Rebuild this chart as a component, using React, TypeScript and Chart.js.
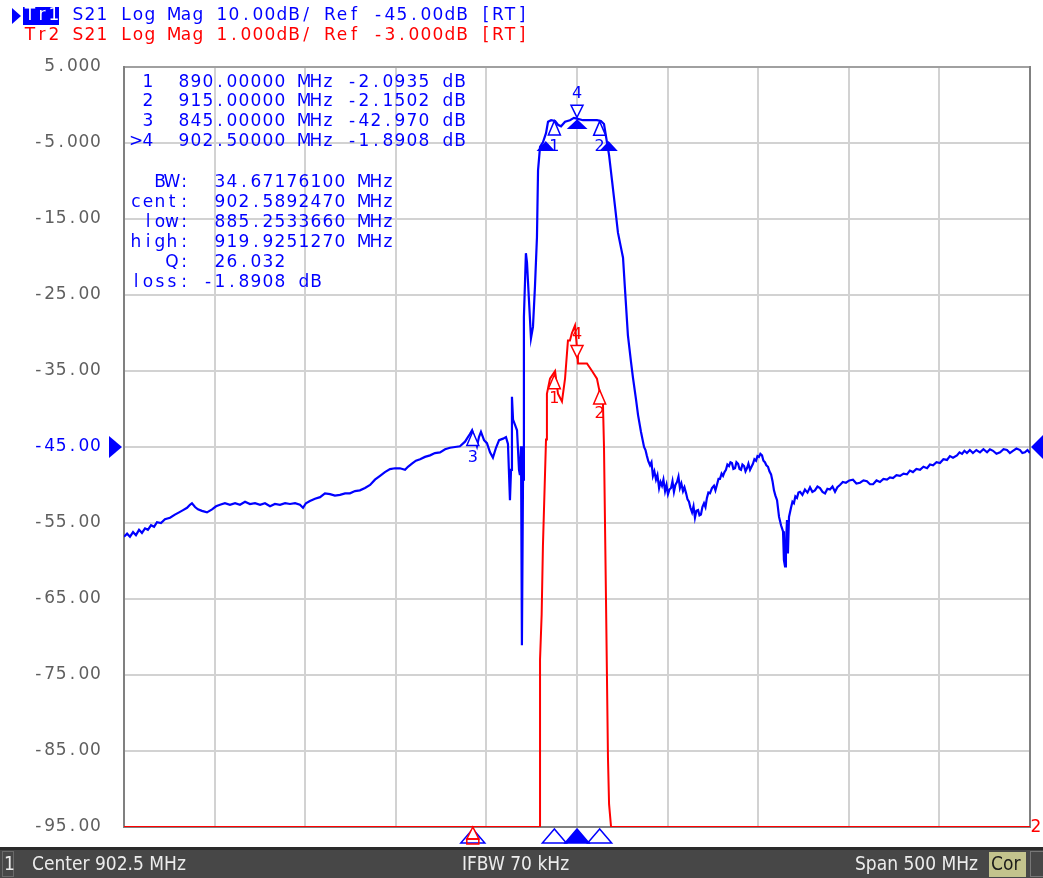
import React, { useEffect, useRef } from "react";
import { Chart, registerables } from "chart.js";
Chart.register(...registerables);

// ---------- data ----------
const xTicks = [652.5, 702.5, 752.5, 802.5, 852.5, 902.5, 952.5, 1002.5, 1052.5, 1102.5, 1152.5];
const yTicks = [5, -5, -15, -25, -35, -45, -55, -65, -75, -85, -95];
const refLevelTr1 = -45;

const blueFreq = [
  652.5, 654.2, 655.8, 657.5, 659.1, 660.8, 662.4, 664.1, 665.7, 667.4, 669.1, 670.7, 672.9, 675.1, 677.9, 680.6,
  682.9, 685.1, 687.3, 688.9, 690.0, 691.7, 693.3, 695.5, 698.3, 701.1, 703.3, 705.5, 708.2, 711.0, 713.8, 716.5,
  719.3, 722.0, 724.8, 727.6, 730.3, 733.1, 735.8, 738.6, 741.4, 744.1, 746.9, 749.6, 751.3, 752.9, 755.1, 757.9,
  760.7, 763.4, 766.2, 768.9, 771.7, 774.5, 777.2, 780.0, 782.7, 785.5, 788.3, 791.0, 793.8, 796.5, 799.3, 802.1,
  804.8, 807.6, 809.2, 811.4, 813.6, 815.9, 818.6, 821.4, 824.1, 826.9, 829.7, 832.4, 835.2, 837.9, 840.7, 842.3,
  843.4, 844.6, 845.7, 847.3, 848.4, 849.5, 851.2, 852.8, 854.5, 856.1, 857.8, 859.5, 861.7, 863.3, 864.4, 865.5,
  866.1, 866.6, 867.2, 868.3, 869.4, 870.5, 871.0, 871.6, 872.1, 872.1, 872.7, 873.2, 874.3, 874.9, 876.0, 877.1,
  878.2, 879.3, 880.4, 881.0, 882.1, 883.7, 885.4, 886.5, 888.2, 890.4, 892.0, 893.7, 895.9, 898.6, 900.8, 902.5,
  905.8, 909.7, 913.5, 915.7, 917.4, 919.1, 920.2, 921.8, 923.5, 925.1, 926.8, 927.9, 929.0, 930.6, 932.3, 933.4,
  935.1, 936.2, 937.8, 939.5, 940.3, 941.1, 941.9, 942.8, 943.6, 944.4, 945.2, 946.1, 946.9, 947.8, 948.6, 949.4,
  950.2, 951.1, 951.9, 952.7, 953.5, 954.4, 955.2, 956.0, 956.8, 957.7, 958.5, 959.3, 960.1, 961.0, 961.8, 962.7,
  963.5, 964.3, 965.1, 966.0, 966.8, 967.6, 968.4, 969.3, 970.1, 970.9, 971.7, 972.6, 973.4, 974.2, 975.0, 975.9,
  977.0, 978.1, 978.9, 979.8, 980.6, 981.4, 982.3, 983.1, 983.9, 984.7, 985.5, 986.4, 987.2, 988.0, 988.8, 989.7,
  990.5, 991.4, 992.2, 993.0, 993.8, 994.7, 995.5, 996.3, 997.1, 998.0, 998.8, 999.6, 1000.4, 1001.3, 1002.1, 1002.9,
  1003.7, 1004.6, 1005.4, 1006.2, 1007.0, 1007.9, 1008.7, 1009.6, 1010.4, 1011.2, 1012.0, 1012.9, 1014.0, 1015.1, 1016.2, 1016.7,
  1017.3, 1017.8, 1018.4, 1018.9, 1019.5, 1020.6, 1021.4, 1022.2, 1023.0, 1023.9, 1024.7, 1025.6, 1026.9, 1028.3, 1029.7, 1031.1,
  1032.4, 1033.8, 1035.2, 1036.6, 1038.0, 1039.4, 1040.7, 1042.1, 1043.5, 1044.9, 1046.2, 1047.6, 1049.2, 1050.9, 1052.8, 1054.8,
  1056.7, 1058.7, 1060.6, 1062.5, 1064.2, 1065.9, 1067.8, 1069.7, 1071.6, 1073.6, 1075.2, 1076.9, 1078.8, 1080.8, 1082.7, 1084.6,
  1086.2, 1087.9, 1089.8, 1091.8, 1093.7, 1095.7, 1097.3, 1099.0, 1100.9, 1102.8, 1104.7, 1106.7, 1108.3, 1110.0, 1112.2, 1113.6,
  1115.0, 1116.3, 1117.7, 1119.3, 1121.0, 1122.9, 1124.9, 1126.8, 1128.8, 1130.4, 1132.1, 1134.0, 1136.0, 1137.9, 1139.8, 1141.4,
  1143.1, 1145.0, 1147.0, 1148.3, 1149.7, 1151.1, 1152.5,
];
const blueDb = [
  -56.8, -56.4, -56.8, -56.2, -56.6, -55.9, -56.3, -55.7, -55.9, -55.3, -55.5, -54.9, -55.0, -54.5, -54.3, -53.9,
  -53.6, -53.3, -53.0, -52.6, -52.4, -52.9, -53.2, -53.4, -53.6, -53.2, -52.8, -52.6, -52.4, -52.6, -52.4, -52.6,
  -52.2, -52.5, -52.4, -52.6, -52.4, -52.8, -52.5, -52.6, -52.4, -52.5, -52.4, -52.6, -53.0, -52.4, -52.1, -51.8,
  -51.6, -51.1, -51.2, -51.4, -51.3, -51.1, -51.1, -50.8, -50.7, -50.4, -50.0, -49.3, -48.8, -48.3, -47.9, -47.8,
  -47.8, -48.0, -47.6, -47.2, -46.8, -46.6, -46.3, -46.1, -45.8, -45.7, -45.3, -45.1, -45.0, -44.9, -44.3, -43.7,
  -43.3, -42.8, -43.7, -44.9, -43.7, -43.0, -44.1, -44.5, -45.7, -46.4, -45.1, -44.1, -43.9, -43.7, -44.6, -52.0,
  -48.0, -38.4, -41.4, -42.1, -42.8, -48.0, -48.7, -44.9, -59.9, -71.1, -49.3, -27.9, -19.5, -20.7, -25.7, -30.7,
  -29.2, -23.9, -17.4, -8.6, -5.5, -4.9, -3.7, -2.2, -2.0, -2.1, -2.6, -2.8, -2.2, -2.0, -1.7, -1.8,
  -2.0, -2.0, -2.0, -2.1, -2.5, -5.0, -6.6, -9.9, -13.4, -16.8, -18.8, -20.1, -24.3, -30.3, -33.8, -35.9,
  -38.8, -40.8, -43.0, -45.0, -45.4, -46.2, -46.9, -47.4, -47.0, -48.8, -48.2, -49.3, -48.7, -50.4, -49.6, -50.1,
  -49.3, -50.8, -50.0, -51.2, -50.6, -50.4, -49.5, -50.9, -50.0, -49.6, -48.9, -50.4, -49.8, -50.8, -50.3, -51.1,
  -51.9, -52.2, -53.0, -53.6, -52.8, -54.3, -53.4, -53.3, -54.0, -53.9, -52.9, -52.4, -52.9, -51.7, -51.0, -51.1,
  -50.4, -50.1, -50.7, -49.9, -49.2, -49.2, -48.5, -48.8, -48.3, -48.0, -47.3, -47.5, -47.0, -47.1, -47.9, -47.8,
  -47.0, -47.2, -47.9, -48.0, -47.3, -47.5, -48.2, -47.8, -47.2, -48.0, -47.6, -47.2, -46.6, -46.8, -46.2, -46.3,
  -45.9, -46.1, -46.8, -47.0, -47.4, -47.6, -48.2, -48.6, -49.5, -50.7, -51.4, -52.0, -54.2, -55.3, -56.1, -59.9,
  -60.7, -57.9, -54.6, -59.0, -54.2, -53.0, -52.2, -52.4, -51.5, -51.7, -51.0, -50.9, -51.3, -50.6, -51.0, -50.3,
  -50.9, -50.7, -50.2, -50.4, -50.9, -51.1, -50.5, -50.6, -50.2, -50.9, -50.3, -50.0, -49.6, -49.7, -49.4, -49.3,
  -49.8, -49.7, -49.4, -49.5, -49.9, -49.9, -49.4, -49.6, -49.2, -49.3, -49.0, -49.1, -48.7, -48.8, -48.5, -48.6,
  -48.1, -48.3, -47.9, -48.0, -47.6, -47.8, -47.3, -47.4, -47.0, -47.1, -46.6, -46.7, -46.2, -46.4, -46.1, -45.7,
  -45.9, -45.5, -45.8, -45.4, -45.8, -45.4, -45.7, -45.3, -45.7, -45.3, -45.5, -45.9, -45.7, -45.3, -45.4, -45.8,
  -45.5, -45.2, -45.4, -45.8, -45.7, -45.4, -45.8,
];

// Tr2 (1 dB/div, ref -3 dB at the bottom line); values below the screen are held at the bottom line
const redFreq = [
  652.5, 882.1, 882.1, 883.0, 883.7, 885.4, 885.9, 887.6, 890.4, 892.0, 894.2, 895.9, 897.5, 898.6, 899.7, 901.4,
  902.5, 903.0, 904.1, 905.8, 908.0, 910.8, 913.5, 915.2, 916.8, 917.4, 918.5, 919.6, 920.2, 921.3, 1152.5,
];
const redDb = [
  -3.0, -3.0, -0.8, -0.2, 0.7, 2.1, 2.7, 2.9, 3.0, 2.7, 2.6, 2.9, 3.4, 3.4, 3.5, 3.6,
  3.3, 3.1, 3.1, 3.1, 3.1, 3.0, 2.9, 2.7, 2.6, 2.0, 0.0, -2.1, -2.7, -3.0, -3.0,
];

const markerIds = ["1", "2", "3", "4"];
const markerFreq = [890.0, 915.0, 845.0, 902.5];
const markerTr1 = [-2.0935, -2.1502, -42.97, -1.8908];
const markerTr2 = [2.95, 2.75, -3.0, 3.15];
const activeMarker = 3;

const bwValue = 34.671761;
const bwCenter = 902.589247;
const bwLow = 885.253366;
const bwHigh = 919.925127;
const bwQ = 26.032;
const bwLoss = -1.8908;
const bwLevel = -4.8908;

const headerTr1 = "Tr1 S21 Log Mag 10.00dB/ Ref -45.00dB [RT]";
const headerTr2 = "Tr2 S21 Log Mag 1.000dB/ Ref -3.000dB [RT]";
const statusCenter = "Center 902.5 MHz";
const statusIfbw = "IFBW 70 kHz";
const statusSpan = "Span 500 MHz";

// ---------- helpers ----------
const BLUE = "#0000ff";
const RED = "#ff0000";
const MONO = "17px 'DejaVu Sans', sans-serif";

function mono(ctx: CanvasRenderingContext2D, s: string, x0: number, yc: number, adv: number, color: string, font = MONO) {
  ctx.save();
  ctx.font = font;
  ctx.fillStyle = color;
  ctx.textAlign = "center";
  ctx.textBaseline = "middle";
  for (let i = 0; i < s.length; i++) {
    const c = s[i];
    if (c !== " ") ctx.fillText(c, x0 + i * adv + adv / 2, yc);
  }
  ctx.restore();
}

function tri(ctx: CanvasRenderingContext2D, x: number, yApex: number, up: boolean, w: number, h: number, color: string, filled: boolean) {
  const yb = up ? yApex + h : yApex - h;
  ctx.save();
  ctx.beginPath();
  ctx.moveTo(x, yApex);
  ctx.lineTo(x - w / 2, yb);
  ctx.lineTo(x + w / 2, yb);
  ctx.closePath();
  ctx.lineWidth = 1.5;
  ctx.strokeStyle = color;
  ctx.fillStyle = filled ? color : "#ffffff";
  ctx.fill();
  ctx.stroke();
  ctx.restore();
}

function fmtTick(v: number) {
  return Math.abs(v) >= 10 ? v.toFixed(2) : v.toFixed(3);
}

const overlay = {
  id: "vnaOverlay",
  beforeDatasetsDraw(chart: any) {
    const { ctx, chartArea: a } = chart;
    ctx.save();
    ctx.lineWidth = 2;
    ctx.strokeStyle = "#a0a0a0";
    ctx.beginPath();
    ctx.moveTo(a.left, a.top);
    ctx.lineTo(a.right, a.top);
    ctx.stroke();
    ctx.strokeStyle = "#808080";
    ctx.beginPath();
    ctx.moveTo(a.left, a.top - 1);
    ctx.lineTo(a.left, a.bottom + 1);
    ctx.moveTo(a.right, a.top - 1);
    ctx.lineTo(a.right, a.bottom + 1);
    ctx.moveTo(a.left, a.bottom);
    ctx.lineTo(a.right, a.bottom);
    ctx.stroke();
    ctx.restore();
  },
  afterDraw(chart: any) {
    const { ctx, chartArea: a } = chart;
    const sx = chart.scales.x;
    const sy = chart.scales.y;
    const sy2 = chart.scales.y2;

    // y tick labels
    yTicks.forEach((v) => {
      const s = fmtTick(v);
      const adv = 11.4;
      mono(ctx, s, 101 - s.length * adv, sy.getPixelForValue(v), adv, v === refLevelTr1 ? BLUE : "#5f5f5f");
    });

    // reference arrows
    const yr = sy.getPixelForValue(refLevelTr1);
    ctx.save();
    ctx.fillStyle = BLUE;
    ctx.beginPath();
    ctx.moveTo(109, yr - 11);
    ctx.lineTo(122, yr);
    ctx.lineTo(109, yr + 11);
    ctx.closePath();
    ctx.fill();
    ctx.beginPath();
    ctx.moveTo(1043, yr - 12);
    ctx.lineTo(1031, yr);
    ctx.lineTo(1043, yr + 12);
    ctx.closePath();
    ctx.fill();
    ctx.restore();
    mono(ctx, "2", 1030, sy2.getPixelForValue(-3) + 1, 12, RED);

    // header
    ctx.save();
    ctx.fillStyle = BLUE;
    ctx.beginPath();
    ctx.moveTo(12, 8);
    ctx.lineTo(21, 16);
    ctx.lineTo(12, 24);
    ctx.closePath();
    ctx.fill();
    ctx.fillRect(23, 7, 36, 18);
    ctx.restore();
    mono(ctx, headerTr1.slice(0, 3), 24, 16, 12, "#ffffff");
    mono(ctx, "   " + headerTr1.slice(3), 24, 16, 12, BLUE);
    mono(ctx, headerTr2, 24, 36, 12, RED);

    // marker table
    const rowsY = [83, 102, 122, 142];
    markerIds.forEach((id, i) => {
      const lead = i === activeMarker ? ">" + id : " " + id;
      const val = markerTr1[i];
      const vs = Math.abs(val) >= 10 ? val.toFixed(3) : val.toFixed(4);
      const s = lead + "  " + markerFreq[i].toFixed(5) + " MHz " + vs + " dB";
      mono(ctx, s, 130, rowsY[i], 12, BLUE);
    });
    const stats = [
      "  BW:  " + bwValue.toFixed(8) + " MHz",
      "cent:  " + bwCenter.toFixed(7) + " MHz",
      " low:  " + bwLow.toFixed(7) + " MHz",
      "high:  " + bwHigh.toFixed(7) + " MHz",
      "   Q:  " + bwQ.toFixed(3),
      "loss: " + bwLoss.toFixed(4) + " dB",
    ];
    stats.forEach((s, i) => mono(ctx, s, 130, 183 + i * 20, 12, BLUE));

    // markers on traces
    const LF = "16px 'DejaVu Sans', sans-serif";
    markerIds.forEach((id, i) => {
      const x = sx.getPixelForValue(markerFreq[i]);
      // Tr1
      const yb = sy.getPixelForValue(markerTr1[i]);
      if (i === activeMarker) {
        tri(ctx, x, yb - 2, false, 12, 12, BLUE, false);
        mono(ctx, id, x - 6, yb - 26, 12, BLUE, LF);
      } else {
        tri(ctx, x, yb, true, 12, 14, BLUE, false);
        mono(ctx, id, x - 6, yb + 26, 12, BLUE, LF);
      }
      // Tr2
      const y2 = Math.min(sy2.getPixelForValue(markerTr2[i]), a.bottom);
      if (i === activeMarker) {
        tri(ctx, x, y2 - 2, false, 12, 12, RED, false);
        mono(ctx, id, x - 6, y2 - 25, 12, RED, LF);
      } else if (y2 < a.bottom - 1) {
        tri(ctx, x, y2, true, 12, 14, RED, false);
        mono(ctx, id, x - 6, y2 + 24, 12, RED, LF);
      }
    });
    // bandwidth search triangles
    const yl = sy.getPixelForValue(bwLevel);
    tri(ctx, sx.getPixelForValue(bwLow), yl, true, 15, 8, BLUE, true);
    tri(ctx, sx.getPixelForValue(bwHigh), yl, true, 15, 8, BLUE, true);
    const yc = sy.getPixelForValue(markerTr1[activeMarker]);
    tri(ctx, sx.getPixelForValue(bwCenter), yc + 1, true, 17, 8, BLUE, true);

    // marker position indicators under the grid
    markerIds.forEach((id, i) => {
      const x = sx.getPixelForValue(markerFreq[i]);
      tri(ctx, x, a.bottom + 2, true, 24, 14, BLUE, i === activeMarker);
    });
    const y3 = sy2.getPixelForValue(markerTr2[2]);
    if (y3 >= a.bottom - 1) {
      const x3 = sx.getPixelForValue(markerFreq[2]);
      tri(ctx, x3, a.bottom, true, 12, 12, RED, false);
      ctx.save();
      ctx.strokeStyle = RED;
      ctx.lineWidth = 1.5;
      ctx.strokeRect(x3 - 6, a.bottom + 12, 12, 5);
      ctx.restore();
    }

    // status bar
    ctx.save();
    ctx.fillStyle = "#2a2a2a";
    ctx.fillRect(0, 847, 1043, 31);
    ctx.fillStyle = "#474747";
    ctx.fillRect(0, 850, 1043, 28);
    ctx.strokeStyle = "#6a6a6a";
    ctx.lineWidth = 1;
    ctx.strokeRect(2.5, 851.5, 11, 25);
    ctx.fillStyle = "#c3c38d";
    ctx.fillRect(989, 852, 37, 25);
    ctx.strokeStyle = "#777";
    ctx.strokeRect(1030.5, 851.5, 14, 25);
    ctx.font = "19px 'DejaVu Sans Condensed', 'DejaVu Sans', sans-serif";
    ctx.textBaseline = "middle";
    ctx.fillStyle = "#ececec";
    ctx.textAlign = "left";
    ctx.fillText("1", 4, 865);
    ctx.fillText(statusCenter, 32, 865);
    ctx.fillText(statusIfbw, 462, 865);
    ctx.fillText(statusSpan, 855, 865);
    ctx.fillStyle = "#1a1a1a";
    ctx.fillText("Cor", 991, 865);
    ctx.restore();
  },
};

export default function App() {
  const ref = useRef<HTMLCanvasElement>(null);
  useEffect(() => {
    const canvas = ref.current!;
    const gridOpts = { color: "#d2d2d2", lineWidth: 2, drawTicks: false };
    const chart = new Chart(canvas, {
      type: "line",
      data: {
        datasets: [
          {
            label: "Tr2",
            data: redFreq.map((f, i) => ({ x: f, y: redDb[i] })),
            borderColor: RED,
            borderWidth: 2,
            pointRadius: 0,
            tension: 0,
            fill: false,
            yAxisID: "y2",
          },
          {
            label: "Tr1",
            data: blueFreq.map((f, i) => ({ x: f, y: blueDb[i] })),
            borderColor: BLUE,
            borderWidth: 2.2,
            pointRadius: 0,
            tension: 0,
            fill: false,
            yAxisID: "y",
          },
        ],
      },
      options: {
        responsive: false,
        animation: false,
        events: [],
        layout: { padding: { left: 124, top: 67, right: 13, bottom: 51 } },
        plugins: { legend: { display: false }, tooltip: { enabled: false } },
        scales: {
          x: {
            type: "linear",
            min: xTicks[0],
            max: xTicks[xTicks.length - 1],
            afterBuildTicks: (s: any) => {
              s.ticks = xTicks.map((v) => ({ value: v }));
            },
            ticks: { display: false },
            grid: gridOpts,
            border: { display: false },
          },
          y: {
            type: "linear",
            min: yTicks[yTicks.length - 1],
            max: yTicks[0],
            afterBuildTicks: (s: any) => {
              s.ticks = yTicks.map((v) => ({ value: v }));
            },
            ticks: { display: false },
            grid: gridOpts,
            border: { display: false },
          },
          y2: { type: "linear", display: false, min: -3, max: 7 },
        },
      },
      plugins: [overlay],
    } as any);
    return () => chart.destroy();
  }, []);
  return (
    <div style={{ position: "fixed", left: 0, top: 0, width: 1043, height: 878, background: "#ffffff" }}>
      <canvas ref={ref} width={1043} height={878} style={{ display: "block", width: 1043, height: 878 }} />
    </div>
  );
}
